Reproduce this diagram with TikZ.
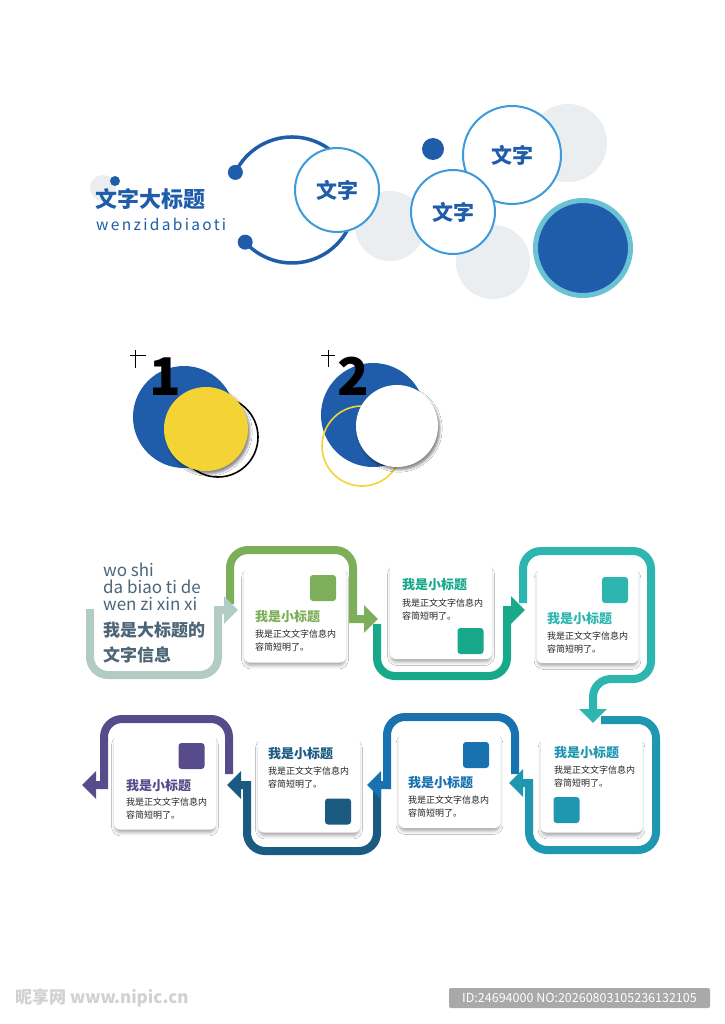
\documentclass[tikz,border=0pt]{standalone}
\usepackage{fontspec}
\setmainfont{Noto Sans CJK SC}
\usetikzlibrary{arrows.meta, shadows.blur, calc}

\definecolor{mainblue}{HTML}{1F5DAA}
\definecolor{ringblue}{HTML}{3C9BDA}
\definecolor{softgray}{HTML}{EAEEF0}
\definecolor{ringteal}{HTML}{6AC3D5}
\definecolor{sunyellow}{HTML}{F4D334}
\definecolor{sage}{HTML}{B2CBC4}
\definecolor{leaf}{HTML}{7DAF5B}
\definecolor{jade}{HTML}{18A98A}
\definecolor{aqua}{HTML}{2DB6B0}
\definecolor{lagoon}{HTML}{2097B0}
\definecolor{ocean}{HTML}{1872B0}
\definecolor{deepsea}{HTML}{1B5B82}
\definecolor{grape}{HTML}{584B8C}
\definecolor{slate}{HTML}{4C6577}
\definecolor{inkgray}{HTML}{222222}
\definecolor{markgray}{HTML}{A9A9A9}

\begin{document}
\begin{tikzpicture}[x=1pt, y=-1pt,
  blob/.style={
    circle,
    inner sep=0pt
  },
  bubble/.style={
    circle,
    draw=ringblue,
    line width=2pt,
    fill=white,
    inner sep=0pt,
    text=mainblue,
    font=\fontsize{21}{21}\selectfont\bfseries
  },
  dot/.style={
    circle,
    fill=mainblue,
    inner sep=0pt
  },
  card/.style={
    rectangle,
    rounded corners=6pt,
    fill=white,
    minimum width=102pt,
    minimum height=95pt,
    blur shadow={shadow xshift=0pt, shadow yshift=-4pt, shadow scale=0.98,
      shadow blur radius=3.5pt, shadow opacity=35}
  },
  square/.style={
    rectangle,
    rounded corners=3pt,
    minimum size=26pt,
    inner sep=0pt
  },
  cardtitle/.style={
    anchor=west,
    inner sep=0pt,
    font=\fontsize{13}{13}\selectfont\bfseries
  },
  body/.style={
    anchor=west,
    inner sep=0pt,
    align=left,
    text=inkgray,
    font=\fontsize{9}{13}\selectfont
  },
  flow/.style={
    line width=8pt,
    rounded corners=18pt,
    -{Triangle[width=27pt, length=14pt]}
  },
  plus/.style={
    line width=1pt
  }
  ]

  \fill [white] (0,0) rectangle (724,1024);

  % grey bubbles behind
  \node [blob, fill=softgray, minimum size=26pt] (g0) at (103,188) {};
  \node [blob, fill=softgray, minimum size=70pt] (g1) at (390,226) {};
  \node [blob, fill=softgray, minimum size=78pt] (g2) at (568,143) {};
  \node [blob, fill=softgray, minimum size=74pt] (g3) at (493,262) {};

  \node [dot, minimum size=10pt] (d0) at (115,181) {};
  \node [anchor=west, inner sep=0pt, text=mainblue,
    font=\fontsize{22}{22}\selectfont\bfseries] (head) at (95,199) {文字大标题};
  \node [anchor=west, inner sep=0pt, text=mainblue,
    font=\fontsize{15.5}{16}\selectfont\addfontfeature{LetterSpace=15}] (headpy) at (96,224)
    {wenzidabiaoti};

  \coordinate (arcc) at (292,200);
  \draw [mainblue, line width=3.5pt] ($(arcc)+(-154:63)$) arc[start angle=-154, end angle=138, radius=63];
  \node [dot, minimum size=15pt] (d1) at ($(arcc)+(-154:63)$) {};
  \node [dot, minimum size=15pt] (d2) at ($(arcc)+(138:63)$) {};

  \node [bubble, minimum size=84pt] (b1) at (337,190) {文字};
  \node [dot, minimum size=22pt] (d3) at (433,149) {};
  \node [bubble, minimum size=98pt] (b2) at (512,155) {文字};
  \node [bubble, minimum size=84pt] (b3) at (453,212) {文字};
  \node [blob, fill=mainblue, draw=ringteal, line width=5pt, minimum size=95pt] (big) at (583,248) {};

  % numbered badges
  \node [blob, fill=mainblue, minimum size=102pt] (n1) at (184,417) {};
  \node [inner sep=0pt, font=\fontsize{52}{52}\selectfont\bfseries] (one) at (165,377) {1};
  \draw [plus] (130,355) -- (146,355);
  \draw [plus] (135,350) -- (135,368);
  \node [blob, draw=black, line width=1.6pt, minimum size=80pt] (r1) at (218,437) {};
  \node [blob, fill=sunyellow, minimum size=84pt,
    blur shadow={shadow xshift=2pt, shadow yshift=-3pt, shadow opacity=45}] (y1) at (206,429) {};

  \node [blob, fill=mainblue, minimum size=104pt] (n2) at (373,415) {};
  \node [inner sep=0pt, font=\fontsize{52}{52}\selectfont\bfseries] (two) at (353,376) {2};
  \draw [plus] (321,355) -- (335,355);
  \draw [plus] (328,350) -- (328,367);
  \node [blob, draw=sunyellow, line width=1.6pt, minimum size=80pt] (r2) at (362,446) {};
  \node [blob, fill=white, minimum size=82pt,
    blur shadow={shadow xshift=2pt, shadow yshift=-3pt, shadow opacity=45}] (w2) at (397,426) {};

  % process arrows, last one first
  \coordinate (p7a) at (229,774);
  \coordinate (p7b) at (82,785);
  \draw [flow, grape] (p7a) -- (229,719) -- (104,719) [sharp corners] -- (104,785) -- (p7b);
  \coordinate (p6a) at (377,788);
  \coordinate (p6b) at (227,785);
  \draw [flow, deepsea] (p6a) -- (377,851) -- (247,851) [sharp corners] -- (247,785) -- (p6b);
  \coordinate (p5a) at (515,774);
  \coordinate (p5b) at (367,785);
  \draw [flow, ocean] (p5a) -- (515,717) -- (387,717) [sharp corners] -- (387,785) -- (p5b);
  \coordinate (p4a) at (601,720);
  \coordinate (p4b) at (509,783);
  \draw [flow, lagoon] (p4a) -- (656,720) -- (656,850) -- (529,850) [sharp corners] -- (529,783) -- (p4b);
  \coordinate (p3a) at (523,603);
  \coordinate (p3b) at (593,723);
  \draw [flow, aqua] (p3a) -- (523,551) -- (651,551) -- (651,679) -- (593,679) -- (p3b);
  \coordinate (p2a) at (377,624);
  \coordinate (p2b) at (525,610);
  \draw [flow, jade] (p2a) -- (377,676) -- (507,676) [sharp corners] -- (507,610) -- (p2b);
  \coordinate (p1a) at (230,604);
  \coordinate (p1b) at (378,619);
  \draw [flow, leaf] (p1a) -- (230,550) -- (353,550) [sharp corners] -- (353,619) -- (p1b);
  \coordinate (p0a) at (90,609);
  \coordinate (p0b) at (238,610);
  \draw [flow, sage] (p0a) -- (90,675) -- (218,675) [sharp corners] -- (218,610) -- (p0b);

  % cards
  \node [card] (c1) at (295,615) {};
  \node [square, fill=leaf] (s1) at (323,588) {};
  \node [cardtitle, text=leaf] (t1) at (255,617) {我是小标题};
  \node [body] (x1) at (255,640.5) {我是正文文字信息内\\容简短明了。};

  \node [card] (c2) at (441,611.5) {};
  \node [square, fill=jade] (s2) at (470.5,641) {};
  \node [cardtitle, text=jade] (t2) at (402,585) {我是小标题};
  \node [body] (x2) at (402,609.5) {我是正文文字信息内\\容简短明了。};

  \node [card] (c3) at (587.5,615.5) {};
  \node [square, fill=aqua] (s3) at (615,590) {};
  \node [cardtitle, text=aqua] (t3) at (547,619) {我是小标题};
  \node [body] (x3) at (547,642.5) {我是正文文字信息内\\容简短明了。};

  \node [card] (c4) at (591.5,785) {};
  \node [square, fill=lagoon] (s4) at (566.5,810) {};
  \node [cardtitle, text=lagoon] (t4) at (554,753) {我是小标题};
  \node [body] (x4) at (554,777) {我是正文文字信息内\\容简短明了。};

  \node [card] (c5) at (449.5,780.5) {};
  \node [square, fill=ocean] (s5) at (476,755) {};
  \node [cardtitle, text=ocean] (t5) at (408,783) {我是小标题};
  \node [body] (x5) at (408,806.5) {我是正文文字信息内\\容简短明了。};

  \node [card] (c6) at (309,785) {};
  \node [square, fill=deepsea] (s6) at (338,811.5) {};
  \node [cardtitle, text=deepsea] (t6) at (268,754) {我是小标题};
  \node [body] (x6) at (268,778) {我是正文文字信息内\\容简短明了。};

  \node [card] (c7) at (165,782) {};
  \node [square, fill=grape] (s7) at (191.5,756) {};
  \node [cardtitle, text=grape] (t7) at (126,786) {我是小标题};
  \node [body] (x7) at (126,808.5) {我是正文文字信息内\\容简短明了。};

  \node [anchor=west, inner sep=0pt, align=left, text=slate,
    font=\fontsize{17}{17}\selectfont] (intro) at (103,587) {wo shi\\da biao ti de\\wen zi xin xi};
  \node [anchor=west, inner sep=0pt, align=left, text=slate,
    font=\fontsize{17}{25}\selectfont\bfseries] (introcn) at (103,642.5) {我是大标题的\\文字信息};

  % watermark
  \node [anchor=west, inner sep=0pt, text=black!18,
    font=\fontsize{17}{17}\selectfont\bfseries] (logo) at (15,998) {昵享网 \itshape www.nipic.cn};
  \node [rectangle, rounded corners=2pt, fill=markgray, text=white, minimum width=261pt,
    minimum height=20pt, font=\fontsize{12.5}{12.5}\selectfont] (mark) at (579.5,998)
    {ID:24694000 NO:20260803105236132105};
\end{tikzpicture}
\end{document}
